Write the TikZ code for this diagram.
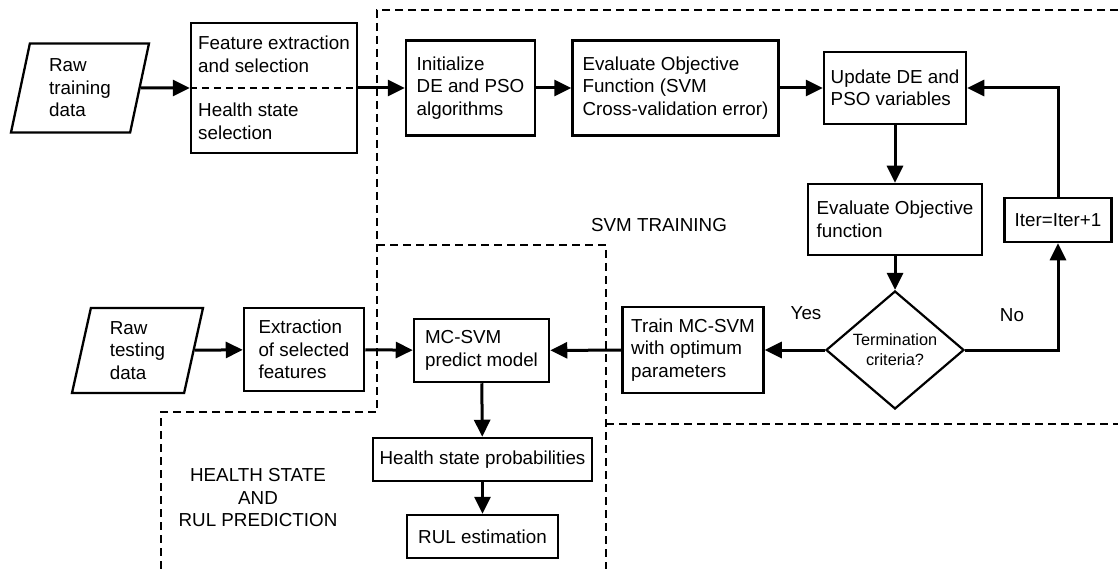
\documentclass[tikz,border=0pt]{standalone}
\usepackage{fontspec}
\setmainfont{Liberation Sans}
\usetikzlibrary{arrows.meta,shapes.geometric}

\begin{document}
\begin{tikzpicture}[x=1pt,y=-1pt,
  box/.style={draw, line width=2.5pt, inner sep=0pt, align=left, font=\fontsize{18.8}{22.5}\selectfont},
  datain/.style={box, trapezium, trapezium left angle=72, trapezium right angle=108, trapezium stretches body, minimum height=#1, line width=2.3pt},
  decide/.style={box, diamond, aspect=1.17, minimum width=138pt, minimum height=118pt, line width=2.2pt, align=center, font=\fontsize{16.3}{20}\selectfont},
  flow/.style={line width=3pt, -{Triangle[length=17pt,width=16pt]}},
  region/.style={line width=2pt, dash pattern=on 8pt off 5pt},
  lbl/.style={font=\fontsize{18.8}{22.5}\selectfont, align=center}]

\useasboundingbox (0,0) rectangle (1118,569);

%Drawing the regions
\draw[region] (1118,10) -- (377,10) -- (377,412) -- (161,412) -- (161,569);
\draw[region] (377,245) -- (606,245) -- (606,569);
\draw[region] (606,424) -- (1118,424);

%Drawing the boxes of the training part
\node[datain=89pt, minimum width=138pt] (rawtrain) at (80,88) {Raw\\training\\data};
\node[box, minimum width=166pt, minimum height=130pt] (feat) at (274,88) {Feature extraction\\and selection\\[22pt]Health state\\selection};
\node[box, minimum width=129pt, minimum height=95pt] (init) at (470.5,88) {Initialize\\DE and PSO\\algorithms};
\node[box, minimum width=206pt, minimum height=95pt] (evalobj) at (675.5,88) {Evaluate Objective\\Function (SVM\\Cross-validation error)};
\node[box, minimum width=142pt, minimum height=72pt] (update) at (895,88) {Update DE and\\PSO variables};
\node[box, minimum width=174pt, minimum height=71pt] (evalfn) at (895,219.5) {Evaluate Objective\\function};
\node[box, minimum width=107pt, minimum height=44pt, align=center] (iter) at (1058,220) {Iter=Iter+1};
\node[decide] (term) at (895,350) {Termination\\criteria?};
\node[box, minimum width=141pt, minimum height=86pt] (train) at (693,350) {Train MC-SVM\\with optimum\\parameters};

%Drawing the boxes of the prediction part
\node[datain=85pt, minimum width=131pt] (rawtest) at (137.5,350.5) {Raw\\testing\\data};
\node[box, minimum width=120pt, minimum height=83pt] (extract) at (304,349.5) {Extraction\\of selected\\features};
\node[box, minimum width=135pt, minimum height=63pt] (mcsvm) at (481.5,350.5) {MC-SVM\\predict model};
\node[box, minimum width=219pt, minimum height=43pt, align=center] (hsp) at (482.5,459.5) {Health state probabilities};
\node[box, minimum width=151pt, minimum height=43pt, align=center] (rul) at (482.5,536.5) {RUL estimation};

%Marking the labels
\node[lbl] (svmlbl) at (659,225) {SVM TRAINING};
\node[lbl] (yes) at (806,313) {Yes};
\node[lbl] (no) at (1012,315) {No};
\node[lbl] (hrlbl) at (258,498) {HEALTH STATE\\AND\\RUL PREDICTION};

%Drawing the connectors
\draw[line width=1.6pt, dash pattern=on 7pt off 5pt] (feat.west) -- (feat.east);
\draw[flow] (rawtrain) -- (feat);
\draw[flow] (feat.east) -- (init.west);
\draw[flow] (init) -- (evalobj);
\draw[flow] (evalobj) -- (update);
\draw[flow] (update) -- (evalfn);
\draw[flow] (evalfn) -- (term);
\draw[flow] (term.east) -| (iter.south);
\draw[flow] (iter.north) |- (update.east);
\draw[flow] (term.west) -- (train.east);
\draw[flow] (train) -- (mcsvm);
\draw[flow] (rawtest) -- (extract);
\draw[flow] (extract) -- (mcsvm);
\draw[flow] (mcsvm) -- (hsp);
\draw[flow] (hsp) -- (rul);
\end{tikzpicture}
\end{document}
